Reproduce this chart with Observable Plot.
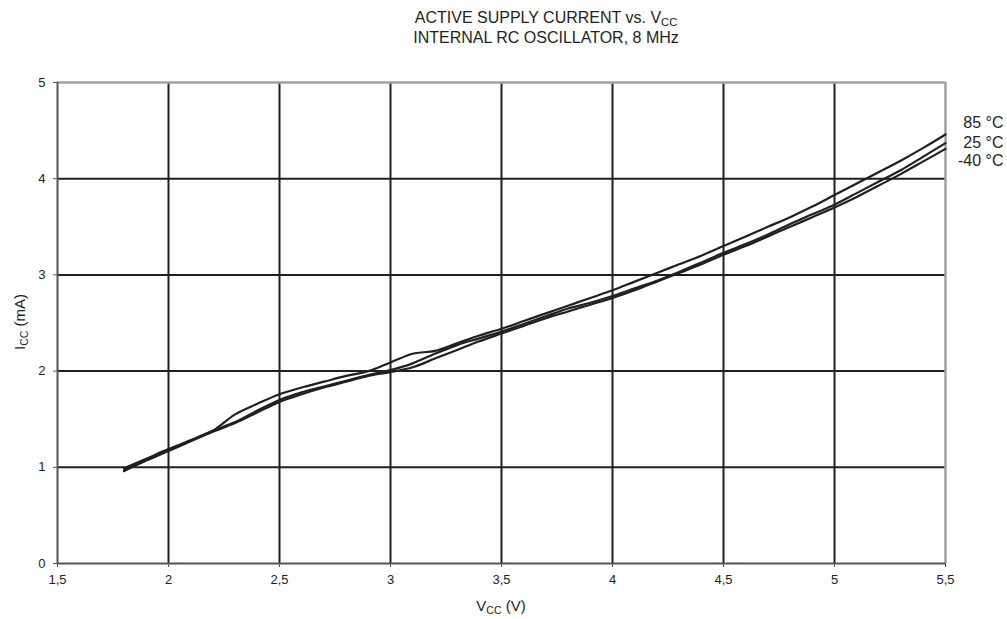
<!DOCTYPE html>
<html><head><meta charset="utf-8">
<script src="https://cdn.jsdelivr.net/npm/d3@7"></script>
<script src="https://cdn.jsdelivr.net/npm/@observablehq/plot@0.6"></script>
<style>body{margin:0;background:#fff;} svg{display:block}</style>
</head><body><div id="chart"></div>
<script>
const volts  = [1.8,1.9,2.0,2.1,2.2,2.3,2.4,2.5,2.6,2.7,2.8,2.9,3.0,3.1,3.2,3.3,3.4,3.5,3.6,3.7,3.8,3.9,4.0,4.1,4.2,4.3,4.4,4.5,4.6,4.7,4.8,4.9,5.0,5.1,5.2,5.3,5.4,5.5];
const icc85  = [0.99,1.09,1.19,1.28,1.38,1.55,1.66,1.76,1.83,1.89,1.95,2.00,2.09,2.18,2.21,2.29,2.37,2.44,2.52,2.60,2.68,2.76,2.84,2.93,3.02,3.11,3.20,3.30,3.40,3.50,3.60,3.71,3.83,3.95,4.07,4.19,4.32,4.46];
const icc25  = [0.97,1.08,1.18,1.28,1.38,1.47,1.59,1.70,1.78,1.84,1.90,1.96,2.01,2.08,2.18,2.27,2.34,2.41,2.49,2.57,2.65,2.71,2.78,2.86,2.94,3.03,3.13,3.23,3.32,3.42,3.53,3.63,3.73,3.85,3.97,4.09,4.23,4.37];
const iccM40 = [0.96,1.07,1.17,1.27,1.37,1.46,1.57,1.68,1.76,1.83,1.89,1.95,1.99,2.04,2.13,2.22,2.31,2.39,2.47,2.55,2.62,2.69,2.76,2.84,2.93,3.02,3.11,3.21,3.30,3.40,3.50,3.60,3.70,3.81,3.93,4.05,4.18,4.31];
const seriesNames = ["85 °C","25 °C","-40 °C"];
const xTicks = [1.5,2,2.5,3,3.5,4,4.5,5,5.5];
const yTicks = [0,1,2,3,4,5];

const rows = [];
[icc85, icc25, iccM40].forEach((arr,k)=>arr.forEach((val,j)=>rows.push({series:seriesNames[k], v:volts[j], i:val})));

const ink = "#231f20";
const legendDy = [40, 60, 78];

const plot = Plot.plot({
  width:1007, height:619,
  marginLeft:57, marginRight:62, marginTop:82, marginBottom:56,
  style:{fontFamily:"'Liberation Sans', Arial, sans-serif", fontSize:"13px", color:ink, background:"#fff"},
  x:{domain:[1.5,5.5]},
  y:{domain:[0,5]},
  marks:[
    Plot.ruleX(xTicks.slice(1,-1), {stroke:ink, strokeWidth:2}),
    Plot.ruleY(yTicks.slice(1,-1), {stroke:ink, strokeWidth:2}),
    Plot.ruleX([xTicks[xTicks.length-1]], {stroke:"#a0a0a0", strokeWidth:2.5}),
    Plot.ruleY([yTicks[yTicks.length-1]], {stroke:"#a0a0a0", strokeWidth:2.5}),
    Plot.ruleX([xTicks[0]], {stroke:"#555", strokeWidth:2}),
    Plot.ruleY([yTicks[0]], {stroke:"#555", strokeWidth:2}),
    Plot.axisX({ticks:xTicks, tickFormat:d=>String(d).replace(".", ","), tickSize:4, tickPadding:7, label:null, stroke:"#555", fill:ink, fontSize:13}),
    Plot.axisY({ticks:yTicks, tickFormat:d=>String(d), tickSize:4, tickPadding:8, label:null, stroke:"#555", fill:ink, fontSize:13}),
    Plot.line(rows, {x:"v", y:"i", z:"series", stroke:ink, strokeWidth:2.2, curve:"monotone-x"}),
    ...seriesNames.map((s,k)=>Plot.text([s], {frameAnchor:"top-right", dx:58, dy:legendDy[k], textAnchor:"end", lineAnchor:"middle", fontSize:16, fill:ink}))
  ]
});
document.getElementById("chart").appendChild(plot);

const svg = d3.select(plot);
function subText(x, y, main, sub, rest, size, rotate){
  const t = svg.append("text")
    .attr("x", x).attr("y", y)
    .attr("text-anchor","middle")
    .attr("font-size", size)
    .attr("fill", ink);
  if (rotate) t.attr("transform", `rotate(-90 ${x} ${y})`);
  t.append("tspan").text(main);
  t.append("tspan").attr("font-size", size*0.7).attr("dy", 3).text(sub);
  if (rest) t.append("tspan").attr("dy", -3).text(rest);
  return t;
}
subText(546, 22.5, "ACTIVE SUPPLY CURRENT vs. V", "CC", "", 16);
svg.append("text").attr("x",546).attr("y",43).attr("text-anchor","middle").attr("font-size",16).attr("fill",ink).text("INTERNAL RC OSCILLATOR, 8 MHz");
subText(501, 611, "V", "CC", " (V)", 15);
subText(25, 322, "I", "CC", " (mA)", 15, true);
</script>
</body></html>
